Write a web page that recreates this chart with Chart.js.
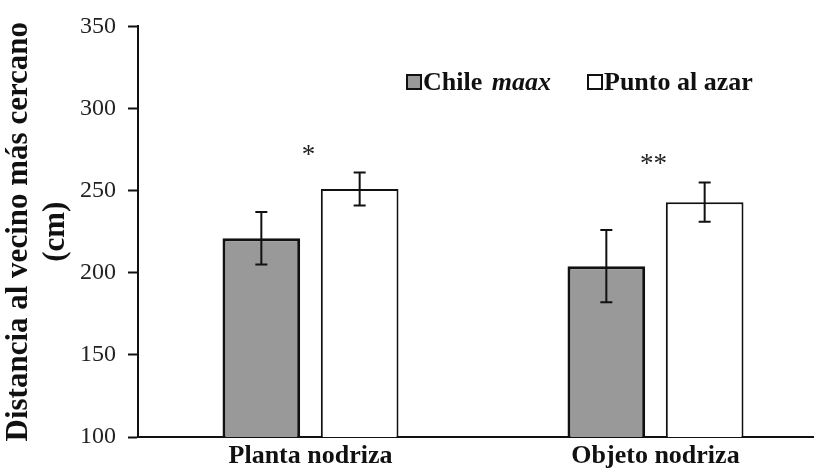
<!DOCTYPE html>
<html>
<head>
<meta charset="utf-8">
<script src="https://cdn.jsdelivr.net/npm/chart.js@4/dist/chart.umd.min.js"></script>
<style>
html,body{margin:0;padding:0;background:#fff;overflow:hidden;}
#wrap{width:814px;height:470px;overflow:hidden;}
</style>
</head>
<body>
<div id="wrap"><canvas id="chart" width="828" height="470"></canvas></div>
<script>
const categories = ['Planta nodriza', 'Objeto nodriza'];
const chileMeans = [221, 204];
const chileErrors = [16, 22];
const azarMeans = [251, 243];
const azarErrors = [10, 12];
const sigMarks = ['*', '**'];
const yTitle = ['Distancia al vecino más cercano', '(cm)'];

const serif = '"Liberation Serif", "Times New Roman", serif';

// legend labels, second element is italic
const legendItems = [
  {parts:[['Chile ', false], ['maax', true]], color:'#999999', x:407},
  {parts:[['Punto al azar', false]], color:'#ffffff', x:588}
];

const errorBars = {
  id:'errorBars',
  afterDatasetsDraw(chart){
    const ctx = chart.ctx;
    const y = chart.scales.y;
    const errs = [chileErrors, azarErrors];
    ctx.save();
    ctx.strokeStyle = '#111';
    ctx.lineWidth = 2;
    chart.data.datasets.forEach((ds, di) => {
      chart.getDatasetMeta(di).data.forEach((bar, i) => {
        const v = ds.data[i], e = errs[di][i];
        const top = y.getPixelForValue(v + e);
        const bot = y.getPixelForValue(v - e);
        ctx.beginPath();
        ctx.moveTo(bar.x, top); ctx.lineTo(bar.x, bot);
        ctx.moveTo(bar.x - 6, top); ctx.lineTo(bar.x + 6, top);
        ctx.moveTo(bar.x - 6, bot); ctx.lineTo(bar.x + 6, bot);
        ctx.stroke();
      });
    });
    // significance marks above the groups
    ctx.fillStyle = '#222';
    ctx.font = '27px ' + serif;
    ctx.textAlign = 'center';
    ctx.textBaseline = 'alphabetic';
    sigMarks.forEach((m, i) => {
      const x = chart.scales.x.getPixelForValue(i);
      const top = y.getPixelForValue(Math.max(chileMeans[i] + chileErrors[i], azarMeans[i] + azarErrors[i]));
      ctx.fillText(m, x - 2, top - 10);
    });
    ctx.restore();
  }
};

const customLegend = {
  id:'customLegend',
  afterDraw(chart){
    const ctx = chart.ctx;
    ctx.save();
    legendItems.forEach(it => {
      ctx.fillStyle = it.color;
      ctx.fillRect(it.x, 75, 14, 14);
      ctx.strokeStyle = '#111';
      ctx.lineWidth = 2;
      ctx.strokeRect(it.x, 75, 14, 14);
      let x = it.x + 16;
      ctx.fillStyle = '#111';
      ctx.textBaseline = 'alphabetic';
      ctx.textAlign = 'left';
      it.parts.forEach(([t, ital]) => {
        ctx.font = (ital ? 'italic ' : '') + 'bold 26px ' + serif;
        ctx.fillText(t, x, 90);
        x += ctx.measureText(t).width + (ital ? 0 : 3);
      });
    });
    ctx.restore();
  }
};

new Chart(document.getElementById('chart'), {
  type:'bar',
  data:{
    labels:categories,
    datasets:[
      {label:'Chile maax', data:chileMeans, backgroundColor:'#999999', borderColor:'#111', borderWidth:3,
       categoryPercentage:0.57, barPercentage:0.79},
      {label:'Punto al azar', data:azarMeans, backgroundColor:'#ffffff', borderColor:'#111', borderWidth:2,
       categoryPercentage:0.57, barPercentage:0.79}
    ]
  },
  options:{
    responsive:false,
    animation:false,
    layout:{padding:{top:25, right:0, bottom:0, left:0}},
    plugins:{legend:{display:false}, tooltip:{enabled:false}},
    scales:{
      x:{
        grid:{display:false, drawTicks:false},
        border:{color:'#111', width:2},
        ticks:{color:'#111', font:{family:serif, size:26, weight:'bold'}, padding:4},
        afterFit(s){ s.height = 33; }
      },
      y:{
        min:100, max:350,
        grid:{drawOnChartArea:false, tickLength:10, tickColor:'#111', tickWidth:2},
        border:{color:'#111', width:2},
        ticks:{stepSize:50, color:'#222', font:{family:serif, size:24}, padding:12},
        title:{display:true, text:yTitle, color:'#111', font:{family:serif, size:31, weight:'bold', lineHeight:1.2}, padding:{top:0, bottom:0}},
        afterFit(s){ s.width = 138; }
      }
    }
  },
  plugins:[errorBars, customLegend]
});
</script>
</body>
</html>
